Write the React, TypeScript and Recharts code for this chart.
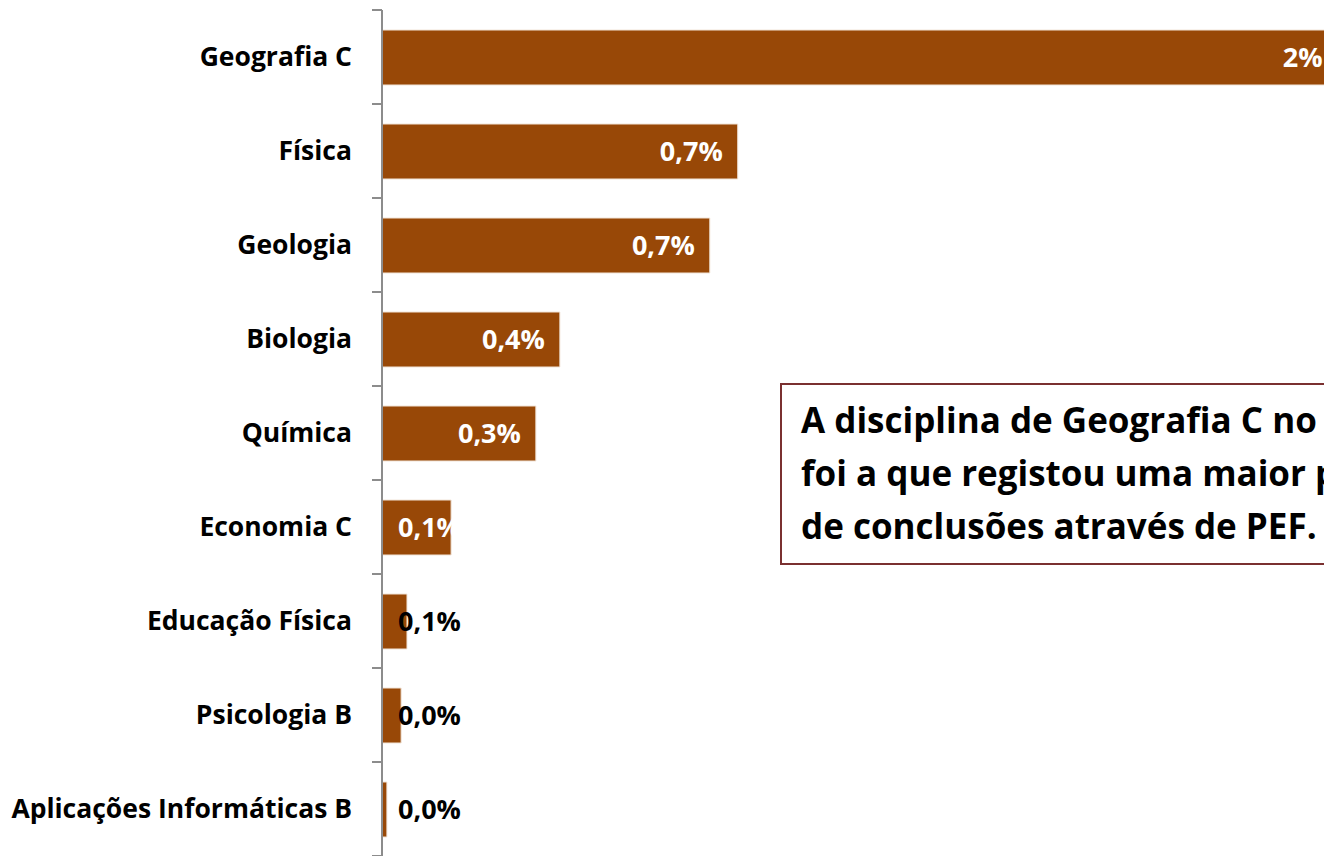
import React from "react";
import { Bar, BarChart, LabelList, XAxis, YAxis } from "recharts";

const subjects = [
  "Geografia C",
  "Física",
  "Geologia",
  "Biologia",
  "Química",
  "Economia C",
  "Educação Física",
  "Psicologia B",
  "Aplicações Informáticas B",
];

// share of conclusions through PEF, in percent
const shares = [1.95, 0.726, 0.669, 0.363, 0.314, 0.141, 0.051, 0.039, 0.01];

const valueLabels = ["2%", "0,7%", "0,7%", "0,4%", "0,3%", "0,1%", "0,1%", "0,0%", "0,0%"];

const note = [
  "A disciplina de Geografia C no",
  "foi a que registou uma maior percentagem",
  "de conclusões através de PEF.",
];

const FONT = "'Open Sans', 'Noto Sans', sans-serif";
const BAR_COLOR = "#984807";
const AXIS_COLOR = "#8c8c8c";

const data = subjects.map((name, i) => ({ name, value: shares[i], label: valueLabels[i] }));

// Excel-style category axis: ticks sit on the band boundaries, not the centres
function SubjectTick(props: any) {
  const { x, y, payload, index } = props;
  const band = 94;
  return (
    <g>
      <line x1={x + 20} x2={x + 30} y1={y - band / 2} y2={y - band / 2} stroke={AXIS_COLOR} strokeWidth={2} />
      {index === subjects.length - 1 && (
        <line x1={x + 20} x2={x + 30} y1={y + band / 2} y2={y + band / 2} stroke={AXIS_COLOR} strokeWidth={2} />
      )}
      <text x={x} y={y} dy={9} textAnchor="end" fontFamily={FONT} fontWeight={700} fontSize={26.5} fill="#000">
        {payload.value}
      </text>
    </g>
  );
}

function ValueLabel(props: any) {
  const { x, y, width, height, index } = props;
  const text = valueLabels[index];
  const cy = y + height / 2 + 9;
  if (width > 100) {
    return (
      <text x={x + width - 15} y={cy} textAnchor="end" fontFamily={FONT} fontWeight={700} fontSize={27} fill="#fff">
        {text}
      </text>
    );
  }
  return (
    <text x={x + 16} y={cy} textAnchor="start" fontFamily={FONT} fontWeight={700} fontSize={27} fill={width > 50 ? "#fff" : "#000"}>
      {text}
    </text>
  );
}

export default function App() {
  return (
    <div style={{ position: "absolute", left: 0, top: 0, width: 1324, height: 856, overflow: "hidden", background: "#fff" }}>
      <BarChart
        width={1400}
        height={856}
        data={data}
        layout="vertical"
        margin={{ top: 10, right: 38, bottom: 0, left: 0 }}
        barSize={55}
      >
        <XAxis type="number" domain={[0, 2]} hide />
        <YAxis
          type="category"
          dataKey="name"
          width={382}
          axisLine={{ stroke: AXIS_COLOR, strokeWidth: 2 }}
          tickLine={false}
          tickSize={0}
          tickMargin={30}
          tick={<SubjectTick />}
          interval={0}
        />
        <Bar dataKey="value" fill={BAR_COLOR} stroke="#f1e4d8" strokeWidth={1} isAnimationActive={false}>
          <LabelList dataKey="label" content={<ValueLabel />} />
        </Bar>
      </BarChart>
      <div
        style={{
          position: "absolute",
          left: 780,
          top: 383,
          width: 700,
          height: 182,
          border: "2px solid #7a3030",
          boxSizing: "border-box",
          padding: "8px 0 0 19px",
          fontFamily: FONT,
          fontWeight: 700,
          fontSize: 35,
          lineHeight: "53px",
          color: "#000",
          whiteSpace: "nowrap",
        }}
      >
        {note.map((line) => (
          <div key={line}>{line}</div>
        ))}
      </div>
    </div>
  );
}
